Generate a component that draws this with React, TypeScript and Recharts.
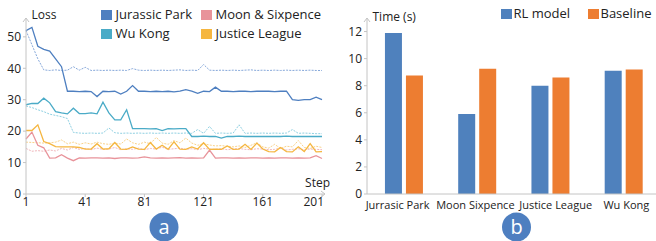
import React from 'react';
import { LineChart, Line, XAxis, YAxis, BarChart, Bar } from 'recharts';

const FONT = '"Open Sans", "Noto Sans", sans-serif';
const AXIS = '#c4c4c4';
const TEXT = '#222222';

// ---------- Chart (a): loss per step ----------
const steps = [1, 5, 9, 13, 17, 21, 25, 29, 33, 37, 41, 45, 49, 53, 57, 61, 65, 69, 73, 77, 81, 85, 89, 93, 97, 101, 105, 109, 113, 117, 121, 125, 129, 133, 137, 141, 145, 149, 153, 157, 161, 165, 169, 173, 177, 181, 185, 189, 193, 197, 201];
const stepTicks = [1, 41, 81, 121, 161, 201];
const lossTicks = [0, 10, 20, 30, 40, 50];

const jurassic = [52, 53, 47, 46, 45.5, 43, 40.5, 32.7, 32.7, 32.6, 32.7, 32.6, 31, 32.7, 32.6, 32.7, 31.8, 32.7, 34.5, 32.7, 32.7, 32.6, 32.7, 32.6, 32.7, 32.5, 32.7, 33.2, 32.7, 32, 32.7, 32.6, 34, 32.7, 32.7, 32.6, 32.7, 32.7, 32.6, 32.7, 32.7, 32.7, 32.6, 32.7, 32.7, 30, 29.8, 30, 30, 30.8, 30];
const jurassicDotted = [52, 47.5, 43, 39.5, 39.3, 39.5, 39.3, 39.4, 40.5, 39.4, 40.3, 39.3, 39.4, 39.3, 39.4, 39.3, 39.4, 39.3, 39.9, 39.4, 39.3, 39.4, 39.3, 39.4, 39.3, 39.4, 39.5, 39.3, 39.4, 39.3, 41.2, 39.4, 39.3, 39.4, 39.3, 39.4, 39.3, 39.4, 39.5, 39.3, 39.4, 39.3, 39.4, 39.3, 39.4, 39.3, 39.4, 39.3, 39.4, 39.3, 39.3];
const wuKong = [28.4, 28.8, 28.8, 30.5, 29, 26.2, 25.8, 25.5, 27.3, 25.6, 25.6, 25.8, 25.5, 29.2, 25.8, 23.6, 23.6, 26.8, 20.8, 20.8, 20.8, 20.7, 20.8, 20.2, 20.8, 20.7, 20.8, 20.8, 18.3, 18.3, 18.4, 18.3, 18.3, 17.8, 18.3, 18.3, 18.4, 18.3, 18.3, 18.3, 18.3, 18.3, 18.3, 18.3, 18.4, 18.3, 18.3, 18.3, 18.3, 18.3, 18.3];
const wuKongDotted = [28, 27.5, 26.8, 26.2, 25.4, 25, 24.6, 24, 19.6, 19.4, 19.3, 19.4, 19.3, 19.4, 21, 19.5, 19.3, 19.4, 19.3, 19.4, 19.3, 19.4, 19.3, 19.4, 19.3, 19.4, 19.3, 19.4, 19.3, 20.5, 19.3, 21.5, 19.3, 19.4, 19.3, 19.4, 22, 19.3, 19.4, 19.3, 19.4, 19.3, 19.4, 19.3, 19.4, 20.5, 19.3, 19.4, 19.3, 19.2, 19.2];
const justice = [20.2, 20.2, 22, 16.7, 16, 15.1, 15, 15, 15, 14.8, 14.3, 14.3, 16, 14.3, 14.4, 16.4, 14.3, 14.2, 15, 14.3, 14.2, 16.4, 14.3, 15.5, 14.2, 16.6, 14.3, 14.2, 15, 14.3, 16.3, 14.2, 14.3, 14.2, 15.3, 14.2, 14.3, 15.8, 14.2, 16.2, 14.3, 13.5, 13.4, 14.8, 13.5, 13.4, 15, 13.5, 16, 13.4, 13.5];
const justiceDotted = [16.5, 16.4, 16.3, 16.2, 16.3, 16.5, 17.2, 16, 16.5, 15.8, 16.3, 15.9, 16.5, 16, 15.8, 16.2, 15.9, 17.5, 16.3, 15.8, 16.5, 16, 18, 16.2, 15.8, 17, 16.3, 17.8, 16.2, 15.5, 16, 15.6, 15.3, 15.4, 15.2, 15, 15.3, 14.8, 15.5, 16.3, 15, 14.6, 15.8, 14.5, 15.2, 15, 17, 14.8, 14.5, 15.2, 14.8];
const moon = [17.5, 19.7, 15.5, 14.7, 11.4, 11.5, 12.5, 11.4, 10.6, 11.5, 11.4, 11.5, 11.5, 11.4, 11.5, 11.3, 11.5, 11.5, 11.4, 11.5, 11.8, 11.5, 11.4, 11.5, 11.4, 11.5, 11.6, 11.4, 11.5, 11.4, 11.5, 14, 11.4, 11.5, 11.5, 11.4, 11.5, 11.4, 11.5, 11.5, 11.4, 11.5, 11.4, 11.5, 11.5, 11.4, 11.5, 11.4, 11.5, 12.2, 11.3];
const moonDotted = [14.5, 13.6, 13.8, 13.6, 14, 13.7, 14.5, 14, 14.8, 14.2, 14.5, 14.1, 14.6, 14.2, 14.3, 14.8, 14.1, 14.4, 14.2, 14.6, 14.1, 14.5, 14.3, 14.9, 14.2, 14.4, 14.6, 14.2, 14.4, 14.1, 14.5, 14.3, 14.2, 14.4, 14.1, 14.3, 14.5, 14.2, 14.1, 14.4, 14.3, 14.1, 14.2, 14.6, 14, 14.2, 14.4, 14.1, 14.3, 14.2, 14.1];

const lossSeries = [
  { key: 'jp', name: 'Jurassic Park', color: '#4e7fc0', dotted: '#86a8da' },
  { key: 'ms', name: 'Moon & Sixpence', color: '#e8939a', dotted: '#f1b7bc' },
  { key: 'wk', name: 'Wu Kong', color: '#4aabc7', dotted: '#8fd0e2' },
  { key: 'jl', name: 'Justice League', color: '#f5b640', dotted: '#fad28a' },
];

const lossData = steps.map((s, i) => ({
  step: s,
  jp: jurassic[i],
  jpd: jurassicDotted[i],
  wk: wuKong[i],
  wkd: wuKongDotted[i],
  jl: justice[i],
  jld: justiceDotted[i],
  ms: moon[i],
  msd: moonDotted[i],
}));

// ---------- Chart (b): time per movie ----------
const movies = ['Jurrasic Park', 'Moon Sixpence', 'Justice League', 'Wu Kong'];
const rlModel = [11.9, 5.9, 8.0, 9.1];
const baseline = [8.75, 9.25, 8.6, 9.2];
const timeTicks = [0, 2, 4, 6, 8, 10, 12];
const barSeries = [
  { key: 'rl', name: 'RL model', color: '#4f81bd' },
  { key: 'base', name: 'Baseline', color: '#ed7d31' },
];
const timeData = movies.map((m, i) => ({ movie: m, rl: rlModel[i], base: baseline[i] }));

const Arrow = ({ x, y, dir }: { x: number; y: number; dir: 'up' | 'right' }) =>
  dir === 'up' ? (
    <polyline points={`${x - 3},${y + 4} ${x},${y} ${x + 3},${y + 4}`} fill="none" stroke={AXIS} strokeWidth={1} />
  ) : (
    <polyline points={`${x - 4},${y - 3} ${x},${y} ${x - 4},${y + 3}`} fill="none" stroke={AXIS} strokeWidth={1} />
  );

const Badge = ({ cx, cy, letter }: { cx: number; cy: number; letter: string }) => (
  <g>
    <circle cx={cx} cy={cy} r={14.5} fill="#4e7fc0" />
    <text x={cx} y={cy} dy="0.33em" textAnchor="middle" fill="#ffffff" fontSize={20} fontFamily={FONT}>
      {letter}
    </text>
  </g>
);

const swatch = (color: string, gap: number) => (
  <span style={{ display: 'inline-block', width: 10.5, height: 10, background: color, marginRight: gap, verticalAlign: 'middle', position: 'relative', top: -1 }} />
);

const LossLegend = () => (
  <div style={{ position: 'absolute', left: 101, top: 5, display: 'grid', gridTemplateColumns: '100px 130px', fontFamily: FONT, fontSize: 13, color: TEXT, lineHeight: '19px' }}>
    {lossSeries.map((s) => (
      <div key={s.key} style={{ whiteSpace: 'nowrap' }}>
        {swatch(s.color, 4)}
        {s.name}
      </div>
    ))}
  </div>
);

const TimeLegend = () => (
  <div style={{ position: 'absolute', left: 501, top: 4, display: 'grid', gridTemplateColumns: '87px 80px', fontFamily: FONT, fontSize: 13, color: TEXT, lineHeight: '19px' }}>
    {barSeries.map((s) => (
      <div key={s.key} style={{ whiteSpace: 'nowrap' }}>
        {swatch(s.color, 2)}
        {s.name}
      </div>
    ))}
  </div>
);

const StepTick = (p: any) => {
  const v = p.payload.value;
  const last = v === 201;
  return (
    <text x={last ? p.x + 2 : p.x} y={p.y} dy="0.71em" textAnchor={last ? 'end' : 'middle'} fontSize={12} fill={TEXT} fontFamily={FONT}>
      {v}
    </text>
  );
};

// small horizontal nudges so neighbouring category labels do not collide
const labelNudge = [-6, -1.5, 5.5, 3];
const MovieTick = (p: any) => (
  <text x={p.x + (labelNudge[p.index] || 0)} y={p.y} dy="0.71em" textAnchor="middle" fontSize={11} fill={TEXT} fontFamily={FONT}>
    {p.payload.value}
  </text>
);

export default function App() {
  return (
    <div style={{ position: 'absolute', left: 0, top: 0, width: 656, height: 241, overflow: 'hidden', background: '#fff' }}>
      <div style={{ position: 'absolute', left: 0, top: 0 }}>
        <LineChart width={335} height={241} data={lossData} margin={{ top: 18, right: 13, bottom: 0, left: 0 }}>
          <XAxis
            dataKey="step"
            type="number"
            domain={[1, 201]}
            ticks={stepTicks}
            interval={0}
            height={47}
            stroke={AXIS}
            tickSize={3}
            tickMargin={0}
            tick={<StepTick />}
            label={(p: any) => {
              const vb = p.viewBox;
              const ex = vb.x + vb.width + 3;
              return (
                <g>
                  <line x1={vb.x + vb.width} y1={vb.y} x2={ex} y2={vb.y} stroke={AXIS} />
                  <Arrow x={ex} y={vb.y} dir="right" />
                  <text x={vb.x + vb.width + 8} y={187} textAnchor="end" fontSize={12} fill={TEXT} fontFamily={FONT}>
                    Step
                  </text>
                  <Badge cx={164} cy={227} letter="a" />
                </g>
              );
            }}
          />
          <YAxis
            type="number"
            domain={[0, 56]}
            ticks={lossTicks}
            interval={0}
            width={26}
            stroke={AXIS}
            tickSize={3}
            tickMargin={2}
            tick={{ fontSize: 12, fill: TEXT, fontFamily: FONT }}
            label={(p: any) => {
              const vb = p.viewBox;
              const ax = vb.x + vb.width;
              return (
                <g>
                  <Arrow x={ax} y={vb.y} dir="up" />
                  <text x={ax + 5.5} y={19} fontSize={12} fill={TEXT} fontFamily={FONT}>
                    Loss
                  </text>
                </g>
              );
            }}
          />
          {lossSeries.map((s) => (
            <Line key={s.key + 'd'} dataKey={s.key + 'd'} stroke={s.dotted} strokeWidth={1} strokeDasharray="2 1.2" dot={false} activeDot={false} isAnimationActive={false} type="linear" />
          ))}
          {lossSeries.map((s) => (
            <Line key={s.key} dataKey={s.key} name={s.name} stroke={s.color} strokeWidth={1.3} dot={false} activeDot={false} isAnimationActive={false} type="linear" />
          ))}
        </LineChart>
      </div>
      <div style={{ position: 'absolute', left: 330, top: 0 }}>
        <BarChart width={330} height={241} data={timeData} margin={{ top: 18, right: 0, bottom: 0, left: 0 }} barCategoryGap="24.5%" barGap={4}>
          <XAxis
            dataKey="movie"
            height={47}
            stroke={AXIS}
            tickLine={false}
            tickSize={0}
            tickMargin={7}
            interval={0}
            tick={<MovieTick />}
            label={() => <Badge cx={186.5} cy={227} letter="b" />}
          />
          <YAxis
            type="number"
            domain={[0, 13]}
            ticks={timeTicks}
            interval={0}
            width={37}
            stroke={AXIS}
            tickSize={3}
            tickMargin={2}
            tick={{ fontSize: 12, fill: TEXT, fontFamily: FONT }}
            label={(p: any) => {
              const vb = p.viewBox;
              const ax = vb.x + vb.width;
              return (
                <g>
                  <Arrow x={ax} y={vb.y} dir="up" />
                  <text x={ax + 5.5} y={21} fontSize={12} fill={TEXT} fontFamily={FONT}>
                    Time (s)
                  </text>
                </g>
              );
            }}
          />
          {barSeries.map((s) => (
            <Bar key={s.key} dataKey={s.key} name={s.name} fill={s.color} isAnimationActive={false} />
          ))}
        </BarChart>
      </div>
      <LossLegend />
      <TimeLegend />
    </div>
  );
}
